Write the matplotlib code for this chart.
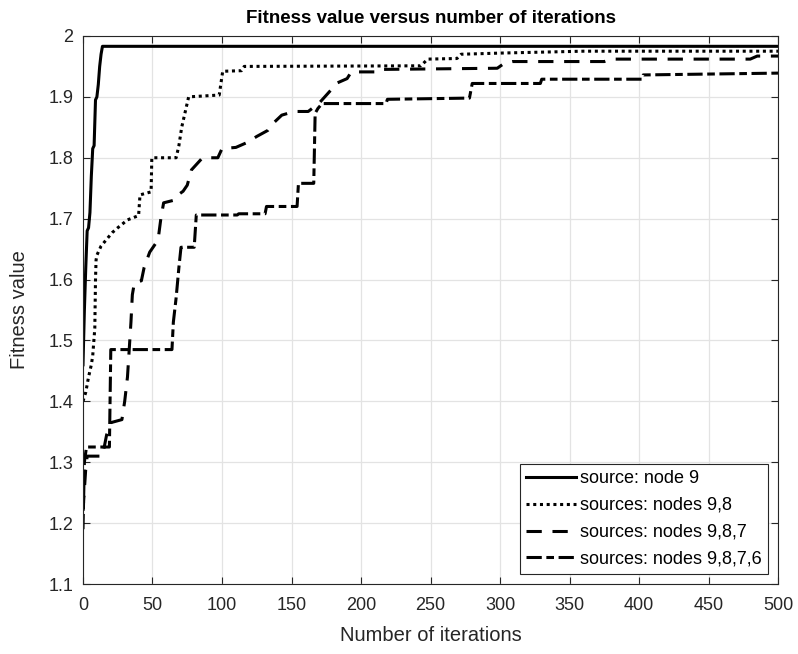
import numpy as np
import matplotlib
matplotlib.use('Agg')
import matplotlib.pyplot as plt

plt.rcParams['font.family'] = ['Liberation Sans', 'DejaVu Sans']

# source: node 9
it1 = [0, 1, 2, 3, 4, 5, 6, 7, 8, 9, 10, 11, 12, 13, 14, 500]
fit1 = [1.46, 1.55, 1.62, 1.68, 1.685, 1.71, 1.77, 1.815, 1.82, 1.895, 1.90, 1.92, 1.95, 1.97, 1.983, 1.983]

# sources: nodes 9,8
it2 = [0, 2, 4, 6, 7, 8.5, 9, 9.4, 10, 13, 21, 25, 32, 40, 41, 49, 49.5, 67, 69, 71, 73, 76, 98,
       100.5, 114, 116, 243, 248, 269, 272, 302, 360, 500]
fit2 = [1.40, 1.415, 1.44, 1.46, 1.475, 1.52, 1.60, 1.632, 1.64, 1.655, 1.677, 1.685, 1.698, 1.705,
        1.739, 1.744, 1.80, 1.80, 1.82, 1.85, 1.87, 1.90, 1.903, 1.942, 1.943, 1.950, 1.951, 1.962,
        1.963, 1.970, 1.972, 1.975, 1.975]

# sources: nodes 9,8,7
it3 = [0, 2, 3, 14, 17, 20, 28, 30, 32, 34.5, 35.5, 37, 42, 44, 48, 54, 56, 58, 65, 66, 72, 75, 78,
       82, 86, 97, 100, 110, 118, 125, 133, 137, 143, 152, 162, 170, 183, 190, 193, 210, 212, 298,
       303, 309, 375, 380, 480, 485, 500]
fit3 = [1.22, 1.29, 1.31, 1.31, 1.345, 1.365, 1.37, 1.40, 1.44, 1.53, 1.575, 1.595, 1.598, 1.62,
        1.645, 1.665, 1.70, 1.726, 1.73, 1.735, 1.745, 1.755, 1.78, 1.79, 1.80, 1.80, 1.815, 1.817,
        1.825, 1.835, 1.845, 1.857, 1.87, 1.876, 1.876, 1.89, 1.923, 1.93, 1.941, 1.941, 1.945, 1.947,
        1.955, 1.958, 1.958, 1.962, 1.962, 1.967, 1.967]

# sources: nodes 9,8,7,6
it4 = [0, 1, 2.5, 19, 20, 64, 65, 67, 69, 70.5, 80, 81.5, 111, 112, 131, 132, 154, 155, 166, 167,
       169, 172, 218, 219, 278, 280, 329, 330, 402, 403, 500]
fit4 = [1.19, 1.30, 1.325, 1.325, 1.485, 1.485, 1.53, 1.57, 1.62, 1.653, 1.653, 1.706, 1.706, 1.708,
        1.708, 1.72, 1.72, 1.758, 1.758, 1.873, 1.881, 1.889, 1.889, 1.896, 1.898, 1.922, 1.922,
        1.929, 1.929, 1.936, 1.939]

labels = ['source: node 9', 'sources: nodes 9,8', 'sources: nodes 9,8,7', 'sources: nodes 9,8,7,6']

fig = plt.figure(figsize=(7.98, 6.54), dpi=100)
ax = fig.add_axes([0.104, 0.107, 0.871, 0.838])

ax.plot(it1, fit1, color='black', lw=2.2, label=labels[0])
ax.plot(it2, fit2, color='black', lw=2.2, dashes=(1, 1.2), label=labels[1])
ax.plot(it3, fit3, color='black', lw=2.2, dashes=(5, 3.5), label=labels[2])
ax.plot(it4, fit4, color='black', lw=2.2, dashes=(5, 1.5, 2.5, 1.5), label=labels[3])

ax.set_xlim(0, 500)
ax.set_ylim(1.1, 2.0)
ax.set_xticks(np.arange(0, 501, 50))
ax.set_yticks(np.arange(1.1, 2.01, 0.1))
ax.set_yticklabels(['1.1', '1.2', '1.3', '1.4', '1.5', '1.6', '1.7', '1.8', '1.9', '2'])
ax.grid(True, color='#e3e3e3', lw=0.9)
ax.set_axisbelow(True)
ax.tick_params(direction='in', top=True, right=True, length=5, width=0.8,
               labelsize=13, colors='#262626')
ax.tick_params(axis='x', pad=9)
ax.tick_params(axis='y', pad=7)
for s in ax.spines.values():
    s.set_color('#262626')
    s.set_linewidth(0.8)

ax.set_title('Fitness value versus number of iterations', fontsize=13.5, fontweight='bold', pad=9)
ax.set_xlabel('Number of iterations', fontsize=14.5, color='#262626', labelpad=9)
ax.set_ylabel('Fitness value', fontsize=14.5, color='#262626', labelpad=14)

leg = ax.legend(loc='lower right', fontsize=13, fancybox=False, framealpha=1,
                edgecolor='#262626', borderaxespad=0.55, handlelength=2.8, handletextpad=0.2,
                labelspacing=0.55, borderpad=0.35)
leg.get_frame().set_linewidth(0.8)

fig.savefig('out.png', dpi=100)
